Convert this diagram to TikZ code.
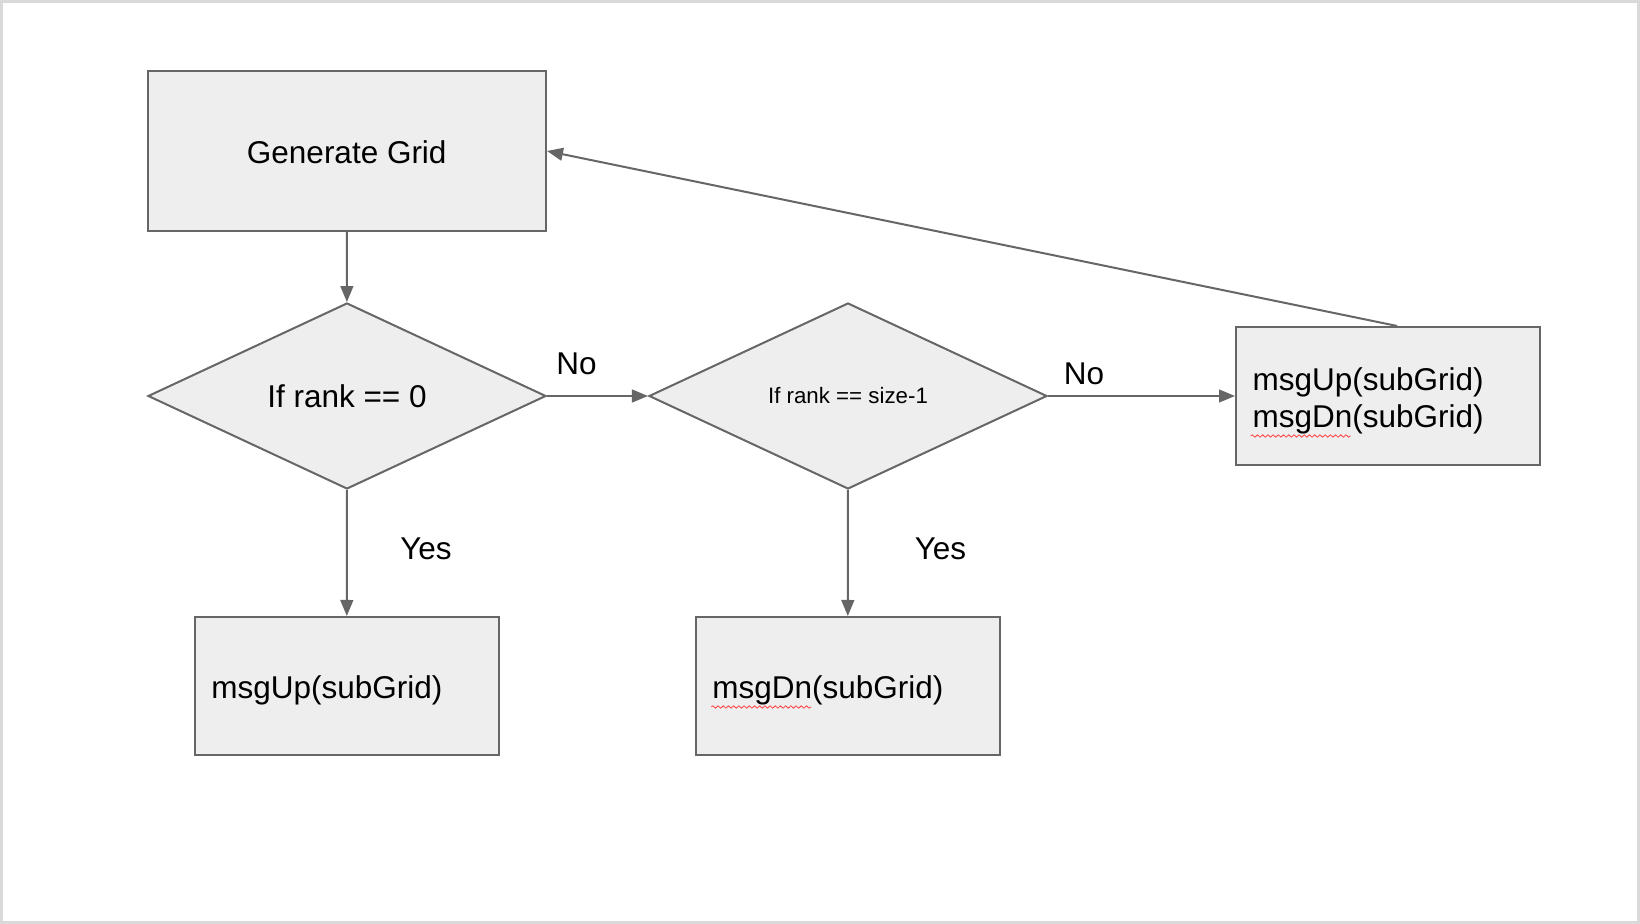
\documentclass[tikz,border=0pt]{standalone}
\usepackage{fontspec}
\setmainfont{Liberation Sans}
\usepackage{xcolor}
\usetikzlibrary{arrows.meta,shapes.geometric,calc,decorations.pathmorphing}
\definecolor{boxfill}{HTML}{EEEEEE}
\definecolor{boxline}{HTML}{666666}
\definecolor{framegray}{HTML}{D9D9D9}
\newcommand{\bigtext}{\fontsize{15.75}{18.3}\selectfont}

\begin{document}
\begin{tikzpicture}[x = 0.5pt, y = -0.5pt,
    >={Triangle[length = 8pt, width = 6.4pt]},
    stepbox/.style = {draw = boxline, fill = boxfill, line width = 1pt, font = \bigtext},
    callbox/.style = {stepbox, minimum width = 152pt, minimum height = 69pt,
      text width = 135.3pt, inner xsep = 8.35pt, align = left,
      execute at begin node = {\rule{0pt}{16.2pt}}},
    decision/.style = {diamond, draw = boxline, fill = boxfill, line width = 1pt,
      minimum width = 199pt, minimum height = 93pt, inner sep = 0pt},
    flow/.style = {->, draw = boxline, line width = 1pt},
    answer/.style = {anchor = base, font = \bigtext},
    squiggle/.style = {draw = red!75, line width = 0.4pt, decorate,
      decoration = {snake, amplitude = 0.6pt, segment length = 2.6pt}}]
    \path[use as bounding box] (0,0) rectangle (1640,924);
    \draw[framegray, line width = 1.5pt] (1.5,1.5) rectangle (1638.5,922.5);

    \node[stepbox, minimum width = 199.25pt, minimum height = 80pt,
      text height = 12.9pt, text depth = 0pt] (grid) at (346.75,151) {Generate Grid};
    \node[decision, font = \bigtext] (first) at (347,396) {If rank == 0};
    \node[decision, font = \fontsize{11.15}{13}\selectfont] (last) at (848,396) {If rank == size-1};
    \node[callbox] (up) at (346.75,686) {msgUp(subGrid)};
    \node[callbox] (dn) at (847.75,686) {msgDn(subGrid)};
    \node[callbox] (both) at (1388,396) {msgUp(subGrid)\\msgDn(subGrid)};
    \coordinate (back) at ($(both.north west)!0.53!(both.north east)$);

    \draw[flow] (grid) -- (first);
    \draw[flow] (first) -- (up);
    \draw[flow] (first) -- (last);
    \draw[flow] (last) -- (dn);
    \draw[flow] (last) -- (both);
    \draw[flow] (back) -- (grid.east);
        % Labels
    \node[answer] (no1) at (576.5,375) {No};
    \node[answer] (no2) at (1084,385) {No};
    \node[answer] (yes1) at (426,560) {Yes};
    \node[answer] (yes2) at (940.5,560) {Yes};
        % spell check marks
    \draw[squiggle] ($(dn.west)+(16.5,21)$) -- ++(100,0);
    \draw[squiggle] ($(both.west)+(15.7,40)$) -- ++(100,0);
\end{tikzpicture}
\end{document}
